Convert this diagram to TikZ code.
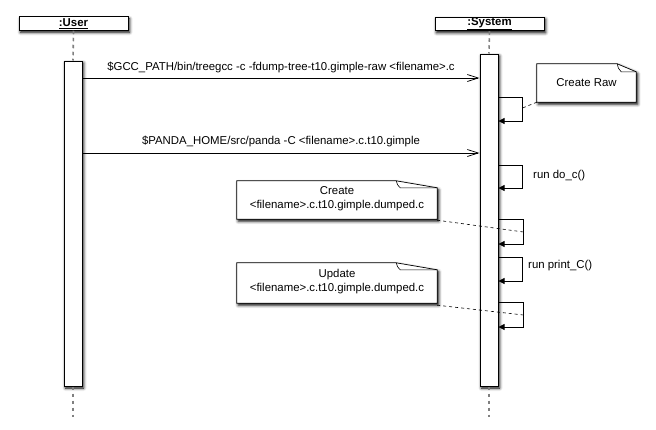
\documentclass[tikz,border=0pt]{standalone}
\usepackage{fontspec}
\setmainfont{Liberation Sans}
\usetikzlibrary{arrows.meta,shadows.blur,calc}
\begin{document}
\begin{tikzpicture}[x=1pt,y=-1pt,
  shade/.style={blur shadow={shadow xshift=1.5pt,shadow yshift=-2pt,shadow blur radius=3pt,shadow opacity=100}},
  head/.style={draw,line width=1pt,fill=white,shade,minimum width=109pt,minimum height=13.5pt,inner sep=0pt,font=\fontsize{11.4}{12}\selectfont\bfseries},
  act/.style={draw,line width=1pt,fill=white,shade,minimum width=18pt,inner sep=0pt},
  life/.style={draw=gray,line width=1.6pt,dash pattern=on 3.5pt off 3.5pt},
  msg/.style={line width=0.75pt,-{Straight Barb[length=11pt,width=7pt]}},
  selfc/.style={line width=0.75pt,-{Triangle[length=6pt,width=6pt]}},
  lbl/.style={font=\fontsize{11.4}{13}\selectfont,inner sep=0pt},
  notebox/.style={inner sep=0pt,font=\fontsize{11.4}{14}\selectfont,align=center},
  noteline/.style={draw,line width=0.7pt,fill=white,shade},
  link/.style={draw,line width=0.6pt,dashed}
]
\useasboundingbox (0,0) rectangle (656,429);

% lifeline heads
\node[head] (uhead) at (73.5,23.5) {\underline{:User}};
\node[head] (shead) at (489.5,24) {\underline{:System}};

% activations
\node[act,minimum height=325pt] (uact) at (73,223.5) {};
\node[act,minimum height=332pt] (sact) at (489,220) {};

\coordinate (uend) at (73,417);
\coordinate (send) at (489,417);
\draw[life] (uhead.south) -- (uact.north);
\draw[life] (uact.south) -- (uend);
\draw[life] (shead.south) -- (sact.north);
\draw[life] (sact.south) -- (send);

% messages
\draw[msg] (uact.east |- 0,78) -- node[lbl,above=5pt] (m1) {\$GCC\_PATH/bin/treegcc -c -fdump-tree-t10.gimple-raw <filename>.c} (sact.west |- 0,78);
\draw[msg] (uact.east |- 0,153) -- node[lbl,above=6pt] (m2) {\$PANDA\_HOME/src/panda -C <filename>.c.t10.gimple} (sact.west |- 0,153);

% self calls
\draw[selfc] (sact.east |- 0,97) -- ++(24,0) coordinate (s1) |- (sact.east |- 0,121);
\draw[selfc] (sact.east |- 0,165) -- ++(24,0) coordinate (s2) |- (sact.east |- 0,188);
\draw[selfc] (sact.east |- 0,219) -- ++(25,0) coordinate (s3) |- (sact.east |- 0,244);
\draw[selfc] (sact.east |- 0,257) -- ++(24,0) coordinate (s4) |- (sact.east |- 0,281);
\draw[selfc] (sact.east |- 0,302) -- ++(25,0) coordinate (s5) |- (sact.east |- 0,327);

\node[lbl,anchor=west] (l2) at (533,176) {run do\_c()};
\node[lbl,anchor=west] (l4) at (528,266) {run print\_C()};

% notes
\node[notebox,minimum width=99pt,minimum height=38pt] (n1) at (586.5,83) {};
\path[noteline] (n1.south west) -- (n1.north west) -- ([xshift=-19pt]n1.north east) -- ([yshift=-8pt]n1.north east) -- (n1.south east) -- cycle;
\draw[line width=0.6pt] ([xshift=-19pt]n1.north east) to[bend right=20] ([xshift=-15pt,yshift=-8pt]n1.north east) -- ([yshift=-8pt]n1.north east);
\node[notebox] at (n1) {Create Raw};

\node[notebox,minimum width=200pt,minimum height=38pt] (n2) at (337,200) {};
\path[noteline] (n2.south west) -- (n2.north west) -- ([xshift=-41pt]n2.north east) -- ([yshift=-7pt]n2.north east) -- (n2.south east) -- cycle;
\draw[line width=0.6pt] ([xshift=-41pt]n2.north east) to[bend right=20] ([xshift=-37pt,yshift=-7pt]n2.north east) -- ([yshift=-7pt]n2.north east);
\node[notebox] at ([yshift=1.5pt]n2) {Create\\<filename>.c.t10.gimple.dumped.c};

\node[notebox,minimum width=200pt,minimum height=40pt] (n3) at (337,283) {};
\path[noteline] (n3.south west) -- (n3.north west) -- ([xshift=-41pt]n3.north east) -- ([yshift=-7pt]n3.north east) -- (n3.south east) -- cycle;
\draw[line width=0.6pt] ([xshift=-41pt]n3.north east) to[bend right=20] ([xshift=-37pt,yshift=-7pt]n3.north east) -- ([yshift=-7pt]n3.north east);
\node[notebox] at ([yshift=1.5pt]n3) {Update\\<filename>.c.t10.gimple.dumped.c};

% note links
\draw[link] (n1.south west) -- (s1 |- 0,108);
\draw[link] ([yshift=-1pt]n2.south east) -- (s3 |- 0,232);
\draw[link] ([yshift=-2pt]n3.south east) -- (s5 |- 0,315);
\end{tikzpicture}
\end{document}
